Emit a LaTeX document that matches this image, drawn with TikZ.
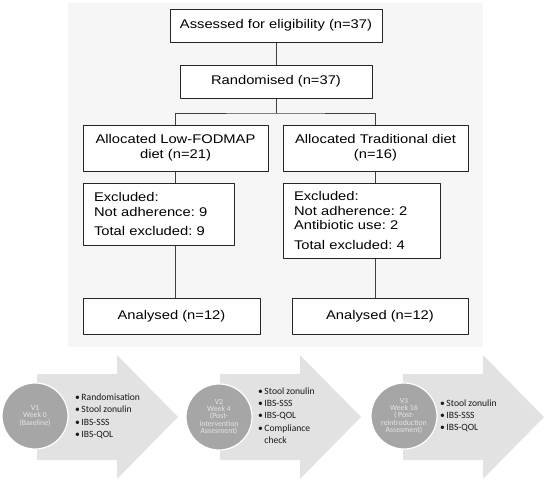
\documentclass[tikz,border=0pt]{standalone}
\usepackage{fontspec}
\newfontfamily\flowfont{Liberation Sans}[FakeStretch=1.17]
\newfontfamily\calfont{Carlito}
\definecolor{panelgray}{RGB}{246,246,246}
\definecolor{arrowgray}{RGB}{226,226,226}
\definecolor{visitgray}{RGB}{166,166,166}
\frenchspacing
\begin{document}
\begin{tikzpicture}[x=1pt,y=-1pt,line join=round,
	flowbox/.style={draw=black!85,line width=1pt,fill=white,align=center,inner sep=2pt,font=\flowfont\fontsize{12.6}{14.7}\selectfont},
	exclbox/.style={flowbox,align=left,inner xsep=11pt,text width=#1},
	visit/.style={circle,draw=white,line width=1.2pt,fill=visitgray,minimum size=66pt,inner sep=0pt,align=center,text=white!90!black,font=\calfont\fontsize{7.8}{7.4}\selectfont},
	plan/.style={anchor=west,inner sep=0pt,text=black!90,font=\calfont\fontsize{9.6}{12.3}\selectfont},
	link/.style={draw=black!75,line width=1pt}]
		\useasboundingbox (0,0) rectangle (550,483);
		\fill[panelgray] (68,3) rectangle (483,347);
		% flow chart
		\node[flowbox,minimum width=212pt,minimum height=33pt] (assess) at (276,25.5) {Assessed for eligibility (n=37)};
		\node[flowbox,minimum width=192pt,minimum height=33pt] (rand) at (276,81.5) {Randomised (n=37)};
		\node[flowbox,minimum width=185pt,minimum height=46pt] (low) at (175.5,148) {Allocated Low-FODMAP\\diet (n=21)};
		\node[flowbox,minimum width=185pt,minimum height=46pt] (trad) at (375.5,148) {Allocated Traditional diet\\(n=16)};
		\node[exclbox=129pt,minimum height=62pt] (exl) at (158.5,214) {Excluded:\\Not adherence: 9\\[5pt]Total excluded: 9};
		\node[exclbox=135pt,minimum height=75pt] (exr) at (361.5,220.5) {Excluded:\\Not adherence: 2\\Antibiotic use: 2\\[5pt]Total excluded: 4};
		\node[flowbox,minimum width=177pt,minimum height=36pt] (anl) at (171.5,316) {Analysed (n=12)};
		\node[flowbox,minimum width=176pt,minimum height=36pt] (anr) at (380,316) {Analysed (n=12)};
		\coordinate (split) at (276,113);
		\draw[link] (assess) -- (rand);
		\draw[link] (rand) -- (split);
		\draw[link] (low.north) |- (split) -| (trad.north);
		\draw[link] (low.south) -- (low.south |- exl.north);
		\draw[link] (low.south |- exl.south) -- (low.south |- anl.north);
		\draw[link] (trad.south) -- (trad.south |- exr.north);
		\draw[link] (trad.south |- exr.south) -- (trad.south |- anr.north);
		% visits
		\foreach \s in {37,220,403}
			\fill[arrowgray] (\s,374) -- ++(80,0) -- ++(0,-19) -- ++(61,62) -- ++(-61,62) -- ++(0,-19) -- ++(-80,0) -- cycle;
		\node[visit] (v1) at (35,416) {V1\\Week 0\\(Baseline)};
		\node[visit] (v2) at (219,417) {V2\\Week 4\\(Post-\\intervention\\Assesment)};
		\node[visit] (v3) at (404,416) {V3\\Week 16\\( Post-\\reintroduction\\Assesment)};
		\node[plan] (p1) at (75,416.5) {\begin{tabular}{@{}l@{\hspace{1.5pt}}l@{}}•&Randomisation\\•&Stool zonulin\\•&IBS-SSS\\•&IBS-QOL\end{tabular}};
		\node[plan] (p2) at (258,416.5) {\begin{tabular}{@{}l@{\hspace{1.5pt}}l@{}}•&Stool zonulin\\•&IBS-SSS\\•&IBS-QOL\\•&Compliance\\&check\end{tabular}};
		\node[plan] (p3) at (440,416) {\begin{tabular}{@{}l@{\hspace{1.5pt}}l@{}}•&Stool zonulin\\•&IBS-SSS\\•&IBS-QOL\end{tabular}};
\end{tikzpicture}
\end{document}
